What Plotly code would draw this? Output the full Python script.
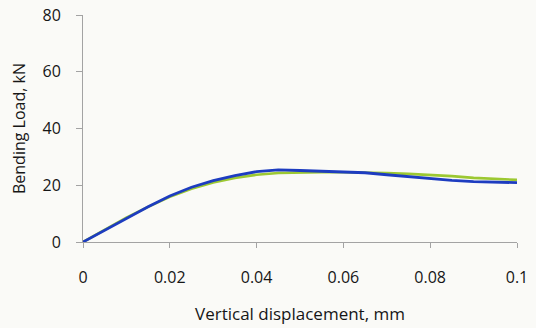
import plotly.graph_objects as go

# Vertical displacement (mm) sampled along each test record
displacement = [0.0, 0.005, 0.01, 0.015, 0.02, 0.025, 0.03, 0.035, 0.04, 0.045,
                0.05, 0.055, 0.06, 0.065, 0.07, 0.075, 0.08, 0.085, 0.09, 0.095, 0.1]

# Bending load (kN) for the two specimens
load_green = [0.0, 4.4, 8.6, 12.4, 15.9, 18.8, 21.0, 22.6, 23.7, 24.3,
              24.5, 24.6, 24.6, 24.5, 24.3, 24.0, 23.7, 23.2, 22.6, 22.2, 21.9]
load_blue = [0.0, 4.2, 8.4, 12.4, 16.2, 19.3, 21.6, 23.4, 24.8, 25.4,
             25.2, 25.0, 24.8, 24.4, 23.7, 23.0, 22.2, 21.7, 21.3, 21.1, 20.9]

x_ticks = [0, 0.02, 0.04, 0.06, 0.08, 0.1]
x_tick_text = ["0", "0.02", "0.04", "0.06", "0.08", "0.1"]
y_ticks = [0, 20, 40, 60, 80]

FONT = "Open Sans, Liberation Sans, sans-serif"
TEXT = "#161616"
AXIS_GREY = "#a3a3a3"

fig = go.Figure()
fig.add_trace(go.Scatter(x=displacement, y=load_green, mode="lines",
                         line=dict(color="#9cc832", width=2.6), showlegend=False))
fig.add_trace(go.Scatter(x=displacement, y=load_blue, mode="lines",
                         line=dict(color="#1d3cc0", width=2.8), showlegend=False))

fig.update_layout(
    width=536, height=328,
    margin=dict(l=83, r=19, t=15, b=86),
    paper_bgcolor="#fafaf7",
    plot_bgcolor="#fafaf7",
    font=dict(family=FONT, color=TEXT),
)
fig.update_xaxes(
    range=[0, 0.1], tickvals=x_ticks, ticktext=x_tick_text, automargin=False,
    showgrid=False, zeroline=False, showline=True, linecolor=AXIS_GREY, linewidth=1,
    ticks="outside", ticklen=5, tickcolor=AXIS_GREY,
    tickfont=dict(size=16, family=FONT, color=TEXT), ticklabelstandoff=16,
    title=dict(text="Vertical displacement, mm", standoff=20,
               font=dict(size=17, family=FONT, color=TEXT)),
)
fig.update_yaxes(
    range=[0, 80], tickvals=y_ticks, automargin=False,
    showgrid=False, zeroline=False, showline=True, linecolor=AXIS_GREY, linewidth=1,
    ticks="outside", ticklen=6, tickcolor=AXIS_GREY,
    tickfont=dict(size=16, family=FONT, color=TEXT), ticklabelstandoff=12,
    title=dict(text="Bending Load, kN", standoff=12,
               font=dict(size=16, family=FONT, color=TEXT)),
)

fig.write_html("out.html")
